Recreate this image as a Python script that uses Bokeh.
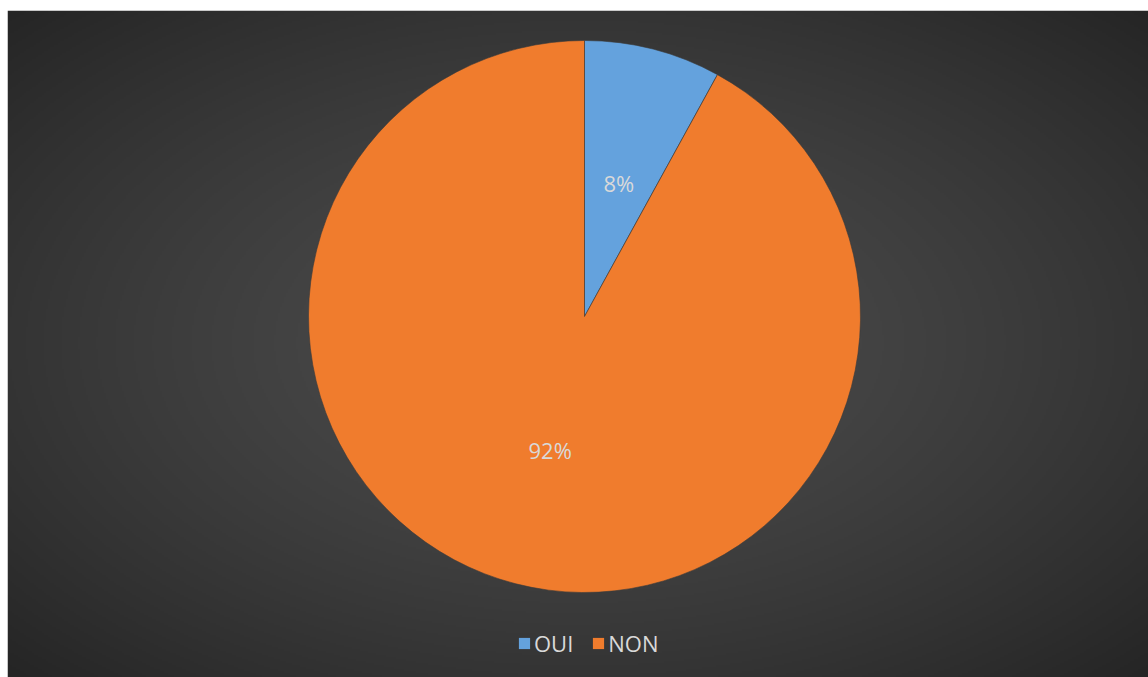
import numpy as np
from bokeh.plotting import figure
from bokeh.models import Range1d, Legend, LegendItem, ColumnDataSource
from bokeh.core.properties import value
from bokeh.embed import file_html
from bokeh.resources import INLINE

# ---- data ----
categories = ["OUI", "NON"]
shares = [8, 92]
colors = ["#64A2DD", "#F07C2D"]

# ---- geometry (layout only) ----
W, H = 1141, 667
cx, cy, R = 577, 361, 276

p = figure(width=1148, height=677, output_backend="svg", toolbar_location=None,
           x_range=Range1d(0, W), y_range=Range1d(0, H),
           min_border_left=7, min_border_top=10, min_border_right=0, min_border_bottom=0,
           border_fill_color="white", outline_line_color=None)
p.axis.visible = False
p.grid.visible = False

# background radial gradient
gw, gh = W // 2 + 1, H // 2 + 1
yy, xx = np.mgrid[0:gh, 0:gw]
dx = (xx - gw / 2) / (gw / 2)
dy = (yy - gh / 2) / (gh / 2)
t = np.clip(np.sqrt(dx ** 2 + dy ** 2) / np.sqrt(2), 0, 1) ** 1.4
c0, c1 = 0x4C, 0x25
c = (c0 + (c1 - c0) * t).astype(np.uint32)
img = (255 << 24) | (c << 16) | (c << 8) | c
p.image_rgba(image=[img.astype(np.uint32)], x=0, y=0, dw=W, dh=H)

# pie wedges
vals = np.array(shares, dtype=float)
frac = vals / vals.sum()
cum = np.concatenate([[0], np.cumsum(frac)])
start = np.pi / 2 - 2 * np.pi * cum[:-1]
end = np.pi / 2 - 2 * np.pi * cum[1:]
mid = (start + end) / 2
src = ColumnDataSource(dict(cat=categories, start=start, end=end, color=colors,
                            lx=cx + 0.5 * R * np.cos(mid), ly=cy + 0.5 * R * np.sin(mid),
                            lab=[f"{int(round(f * 100))}%" for f in frac]))
p.wedge(x=cx, y=cy, radius=R, start_angle="start", end_angle="end", direction="clock",
        fill_color="color", line_color="#3a3a3a", line_width=0.6, source=src)

p.text(x="lx", y="ly", text="lab", source=src, text_align="center", text_baseline="middle",
       text_font=value("Open Sans"), text_font_size="22px", text_color="#D9D9D9")

# legend
items = []
for cat, col in zip(categories, colors):
    r = p.quad(left=[np.nan], right=[np.nan], top=[np.nan], bottom=[np.nan],
               fill_color=col, line_color=None)
    items.append(LegendItem(label=cat, renderers=[r]))
leg = Legend(items=items, orientation="horizontal", location=(510, 19),
             glyph_width=14, glyph_height=14, label_standoff=3, spacing=18,
             padding=0, margin=0, border_line_color=None, background_fill_alpha=0,
             label_text_font="Open Sans", label_text_font_size="22px",
             label_text_color="#D9D9D9")
p.add_layout(leg)

open("out.html", "w").write(file_html(p, INLINE))
